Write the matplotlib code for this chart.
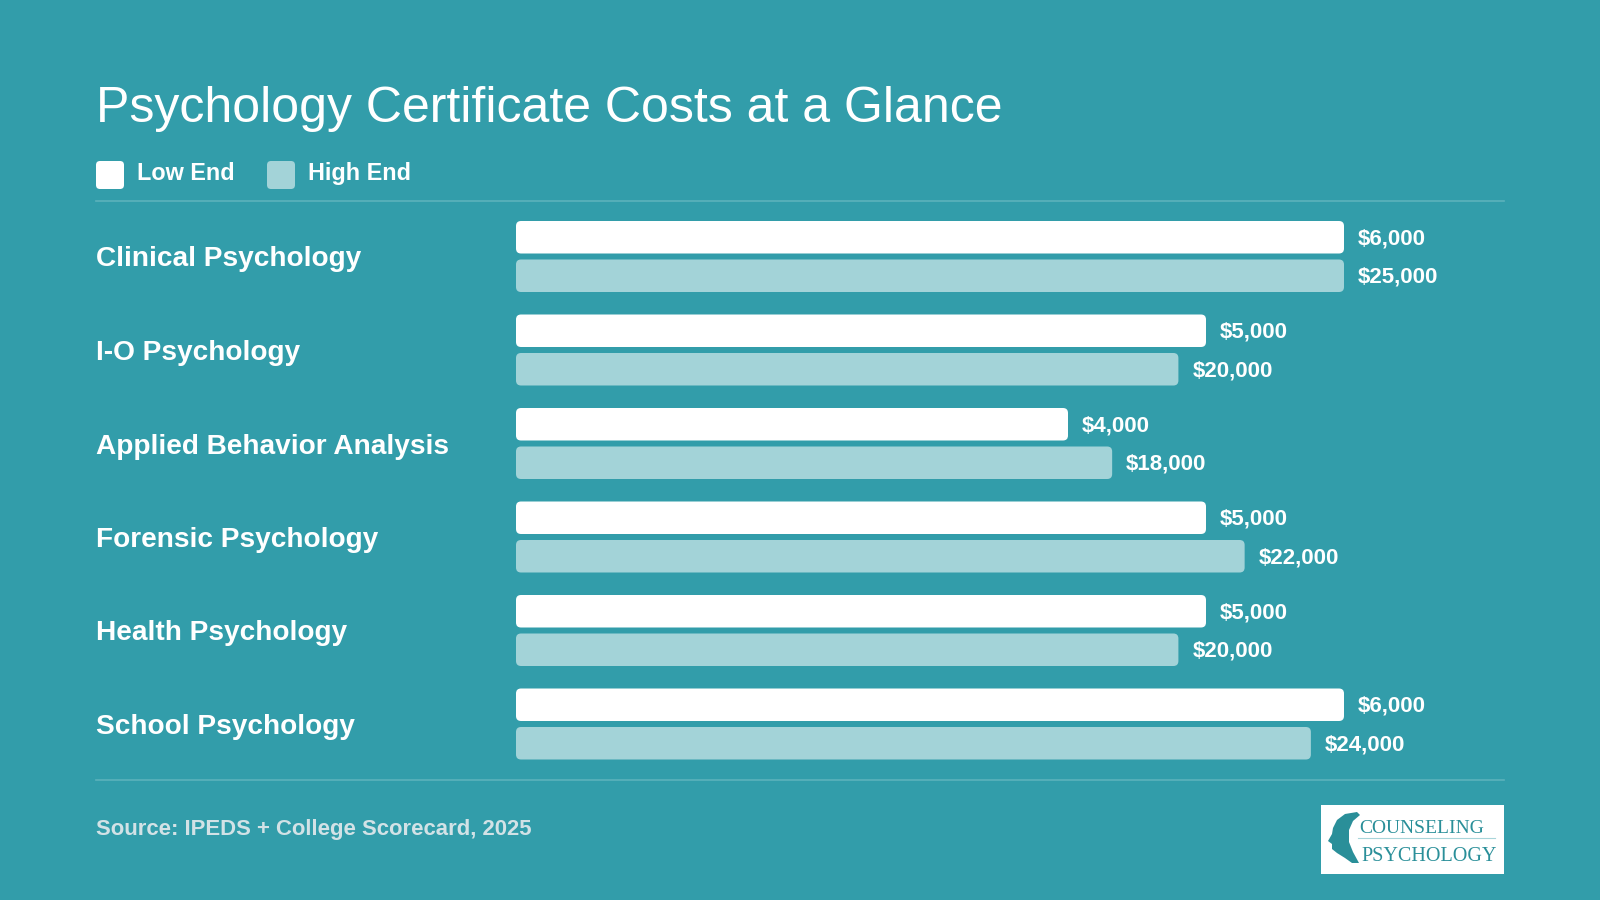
"""Psychology certificate costs: low vs high end, each bar series on its own scale."""
import matplotlib.pyplot as plt
from matplotlib.patches import FancyBboxPatch, Polygon
from matplotlib.transforms import blended_transform_factory

W, H = 1600, 900
BG = "#329DAA"
LOW_COLOR = "#FFFFFF"
HIGH_COLOR = "#A3D3D8"
RULE_COLOR = "#5CB2BC"
SOURCE_COLOR = "#D2E2E6"
LOGO_TEAL = "#2A8F99"

categories = ["Clinical Psychology", "I-O Psychology", "Applied Behavior Analysis",
              "Forensic Psychology", "Health Psychology", "School Psychology"]
low_end = [6000, 5000, 4000, 5000, 5000, 6000]
high_end = [25000, 20000, 18000, 22000, 20000, 24000]
legend_labels = ["Low End", "High End"]

plt.rcParams["font.family"] = ["Liberation Sans", "DejaVu Sans"]

fig = plt.figure(figsize=(16, 9), dpi=100, facecolor=BG)

# pixel-space overlay for title, rules, legend, logo
deco = fig.add_axes([0, 0, 1, 1])
deco.set_xlim(0, W)
deco.set_ylim(H, 0)
deco.axis("off")

deco.text(96, 122, "Psychology Certificate Costs at a Glance", color="white",
          fontsize=36, va="baseline", ha="left")

for i, (lab, col) in enumerate(zip(legend_labels, [LOW_COLOR, HIGH_COLOR])):
    x0 = 96 + i * 171
    deco.add_patch(FancyBboxPatch((x0, 161), 28, 28, boxstyle="round,pad=0,rounding_size=4",
                                  fc=col, ec="none"))
    deco.text(x0 + 41, 180, lab, color="white", fontsize=16.8, fontweight="bold",
              va="baseline", ha="left")

deco.plot([96, 1504], [200.5, 200.5], color=RULE_COLOR, lw=1.2)
deco.plot([96, 1504], [780, 780], color=RULE_COLOR, lw=1.2)

deco.text(96, 835, "Source: IPEDS + College Scorecard, 2025", color=SOURCE_COLOR,
          fontsize=15.9, fontweight="bold", va="baseline", ha="left")

# logo
deco.add_patch(plt.Rectangle((1321, 805), 183, 69, fc="white", ec="none"))
head = [(1357, 812), (1345, 814), (1337, 820), (1333, 828), (1332, 834), (1328, 841),
        (1332, 844), (1332, 849), (1337, 853), (1345, 858), (1352, 863), (1359, 863),
        (1353, 852), (1349, 842), (1349, 830), (1353, 821), (1360, 815)]
deco.add_patch(Polygon(head, closed=True, fc=LOGO_TEAL, ec="none"))
deco.text(1359, 833, "COUNSELING", color=LOGO_TEAL, fontsize=14,
          family="Liberation Serif", va="baseline", ha="left")
deco.plot([1358, 1495], [838, 838], color="#A8D5DA", lw=0.8)
deco.text(1361, 861, "PSYCHOLOGY", color=LOGO_TEAL, fontsize=14.5,
          family="Liberation Serif", va="baseline", ha="left")

# bar area
BAR_X0, BAR_X1 = 516, 1344
ROW0, PITCH = 256.5, 93.5
n = len(categories)
top = ROW0 - PITCH / 2
bottom = ROW0 + (n - 0.5) * PITCH
ax = fig.add_axes([BAR_X0 / W, 1 - bottom / H, (BAR_X1 - BAR_X0) / W, (bottom - top) / H])
ax.set_xlim(0, max(low_end))
ax.set_ylim(n - 0.5, -0.5)
ax.axis("off")
ax2 = ax.twiny()
ax2.set_xlim(0, max(high_end))
ax2.set_ylim(n - 0.5, -0.5)
ax2.axis("off")

BAR_H = 32.5 / PITCH
OFF = 19.25 / PITCH
SY = 1 / PITCH


def rounded_bar(a, y, w, color, xmax, r=5):
    sx = xmax / (BAR_X1 - BAR_X0)
    a.add_patch(FancyBboxPatch((0, y - BAR_H / 2), w, BAR_H,
                               boxstyle=f"round,pad=0,rounding_size={r * sx}",
                               mutation_aspect=SY / sx, fc=color, ec="none"))
    a.annotate(f"${w:,}", (w, y), xytext=(10, -1.2), textcoords="offset points",
               va="center", ha="left", color="white", fontsize=16,
               fontweight="bold", annotation_clip=False)


for i in range(n):
    rounded_bar(ax, i - OFF, low_end[i], LOW_COLOR, max(low_end))
    rounded_bar(ax2, i + OFF, high_end[i], HIGH_COLOR, max(high_end))

lab_tf = blended_transform_factory(fig.transFigure, ax.transData)
for i, cat in enumerate(categories):
    ax.text(96 / W, i + 10 / PITCH, cat, transform=lab_tf, color="white",
            fontsize=20.2, fontweight="bold", va="baseline", ha="left", clip_on=False)

fig.savefig("out.png", dpi=100, facecolor=BG)
